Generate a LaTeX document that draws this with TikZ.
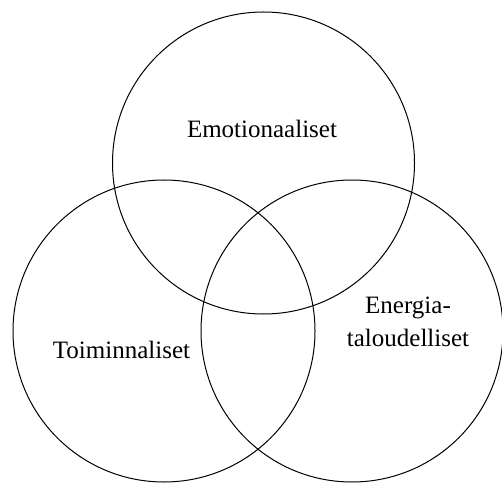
\documentclass[tikz,border=0pt]{standalone}
\usepackage{fontspec}
\setmainfont{Liberation Serif}
\begin{document}
\begin{tikzpicture}[x=1pt,y=1pt,
  ring/.style={draw=black,line width=1pt},
  lbl/.style={inner sep=0pt,anchor=base,font=\fontsize{25}{33}\selectfont,align=center}]
\useasboundingbox (0,0) rectangle (502,482);
\clip (0,0) rectangle (502,482);
\fill[white] (0,0) rectangle (502,482);
\draw[ring] (263.5,319) circle (151);
\draw[ring] (164,151) circle (151);
\draw[ring] (352,151) circle (151);
\node[lbl] (emo) at (262,344) {Emotionaaliset};
\node[lbl] (toi) at (121.5,124) {Toiminnaliset};
\node[lbl] (ene) at (408,136) {Energia-\\taloudelliset};
\end{tikzpicture}
\end{document}
